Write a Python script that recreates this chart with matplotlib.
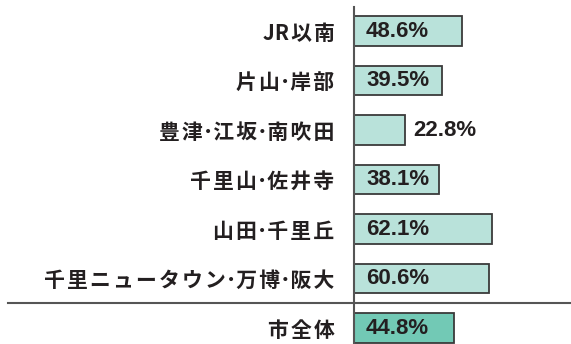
import matplotlib
matplotlib.use("Agg")
import matplotlib.pyplot as plt
import matplotlib.transforms as mtransforms

areas = ["JR以南", "片山・岸部", "豊津・江坂・南吹田", "千里山・佐井寺",
         "山田・千里丘", "千里ニュータウン・万博・阪大", "市全体"]
rates = [48.6, 39.5, 22.8, 38.1, 62.1, 60.6, 44.8]

light = "#b9e2da"
dark = "#72c9b5"
edge = "#3a3a3a"
txt = "#231f20"


def spaced(label):
    # loosen the tracking a little and use a narrow middle dot
    out = ""
    for i, ch in enumerate(label):
        if ch == "・":
            out += "･"
            continue
        out += ch
        nxt = label[i + 1] if i + 1 < len(label) else ""
        if nxt and nxt != "・" and not (ch.isascii() and nxt.isascii()):
            out += "\u200a"
    return out


W, H = 571, 344
fig = plt.figure(figsize=(W / 100, H / 100), dpi=100)
ax = fig.add_axes([354 / W, 0, 1 - 354 / W, 1 - 7 / H])

colors = [light] * (len(areas) - 1) + [dark]
ypos = list(range(len(areas)))
ax.barh(ypos, rates, height=0.59, color=colors, edgecolor=edge, linewidth=1.3)

ax.set_xlim(0, 217 / 2.222)
ax.set_ylim(6.323, -0.485)

ax.set_yticks(ypos)
ax.set_yticklabels([spaced(a) for a in areas], fontsize=15, fontweight="bold",
                   color=txt, family=["Noto Sans CJK JP", "DejaVu Sans"])
ax.tick_params(axis="y", length=0, pad=14)
ax.set_xticks([])

for s in ["top", "right", "bottom"]:
    ax.spines[s].set_visible(False)
ax.spines["left"].set_color("#555555")
ax.spines["left"].set_linewidth(1.5)

# value labels: inside the bar when it fits, otherwise just past its end
px = 97.66 / 217
for y, v in zip(ypos, rates):
    if v > 30:
        x, off = 0, 12 * px
    else:
        x, off = v, 9 * px
    ax.text(x + off, y, f"{v}%", va="center", ha="left", fontsize=16,
            fontweight="bold", color=txt, family="Liberation Sans")

# separator above the city-wide total
trans = mtransforms.blended_transform_factory(fig.transFigure, ax.transData)
ax.plot([8 / W, 1], [5.5, 5.5], transform=trans, color="#555555",
        linewidth=1.5, clip_on=False)

fig.savefig("out.png", dpi=100)
